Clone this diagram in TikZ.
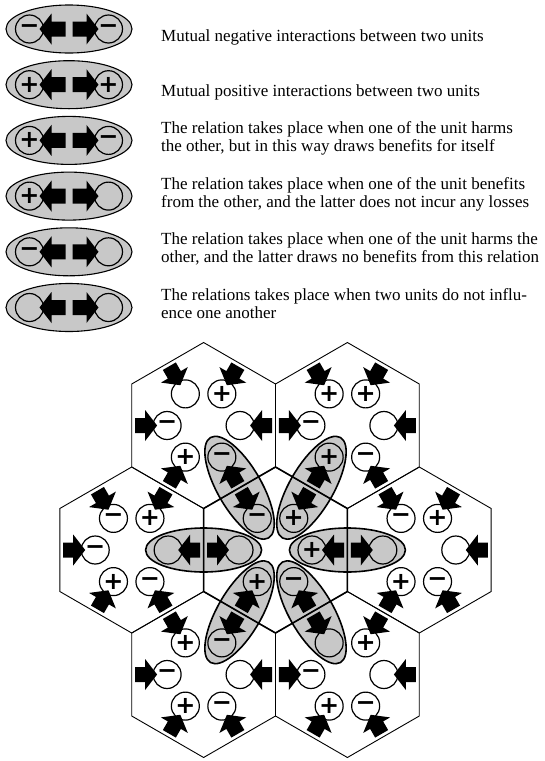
\documentclass[tikz,border=0pt]{standalone}
\usepackage{fontspec}
\setmainfont{Liberation Serif}
\newfontfamily\signfont{DejaVu Sans}
\usetikzlibrary{shapes.geometric,calc}
\definecolor{PairGrey}{HTML}{C8C8C8}
\tikzset{
  unitcirc/.style={circle,draw,line width=1.2pt,minimum size=28pt,inner sep=0pt,outer sep=0pt,font=\signfont\bfseries\fontsize{24}{24}\selectfont},
  pairell/.style={ellipse,draw,fill=PairGrey,line width=1.6pt,inner sep=0pt,outer sep=0pt},
  legtext/.style={anchor=west,align=left,inner sep=0pt,font=\fontsize{17}{18}\selectfont},
  hexline/.style={line width=0.9pt}
}
\newcommand{\unitmark}[5][32]{%
  \node[unitcirc] (#2) at #3 {#5};
  \fill[shift={(#2.center)},rotate=#4] (#1,-7.5) -- (22,-7.5) -- (22,-15.5) -- (10,0) -- (22,15.5) -- (22,7.5) -- (#1,7.5) -- cycle;
}
\newcommand{\hexunits}[2]{%
  \foreach \a/\s in {#2}{\unitmark{#1-\a}{($(#1)+(\a:36.5)$)}{\a}{\s}}
}

\begin{document}
\begin{tikzpicture}[x=1pt,y=1pt]
  \useasboundingbox (0,0) rectangle (544,-761);
  \foreach \i/\sa/\sb in {1/−/−,2/+/+,3/+/−,4/+/{},5/−/{},6/{}/{}}{
    \node[pairell,line width=1.1pt,minimum width=126pt,minimum height=48pt] (leg\i) at (69,{-29-55.7*(\i-1)}) {};
    \unitmark[36]{leg\i-a}{($(leg\i)+(-39.5,0)$)}{0}{\sa}
    \unitmark[36]{leg\i-b}{($(leg\i)+(39.5,0)$)}{180}{\sb}
  }
  \node[legtext] (txt1) at (161,-37) {Mutual negative interactions between two units};
  \node[legtext] (txt2) at (161,-92) {Mutual positive interactions between two units};
  \node[legtext] (txt3) at (161,-138) {The relation takes place when one of the unit harms\\the other, but in this way draws benefits for itself};
  \node[legtext] (txt4) at (161,-194) {The relation takes place when one of the unit benefits\\from the other, and the latter does not incur any losses};
  \node[legtext] (txt5) at (161,-249) {The relation takes place when one of the unit harms the\\other, and the latter draws no benefits from this relation};
  \node[legtext] (txt6) at (161,-304) {The relations takes place when two units do not influ-\\ence one another};

  \coordinate (hexC) at (275.5,-550);
  \coordinate (hexTL) at (203.6,-425.5);
  \coordinate (hexTR) at (347.4,-425.5);
  \coordinate (hexL) at (131.7,-550);
  \coordinate (hexR) at (419.3,-550);
  \coordinate (hexBL) at (203.6,-674.5);
  \coordinate (hexBR) at (347.4,-674.5);
  \foreach \a in {0,60,...,300}
    \node[pairell,minimum width=116pt,minimum height=44pt,rotate=\a] (pair\a) at ($(hexC)+(\a:71.9)$) {};
  \foreach \h in {hexTL,hexTR,hexL,hexR,hexBL,hexBR}
    \draw[hexline,shift={(\h)}] (30:83) -- (90:83) -- (150:83) -- (210:83) -- (270:83) -- (330:83) -- cycle;
  \draw[hexline,line width=1.6pt,shift={(hexC)}] (30:83) -- (90:83) -- (150:83) -- (210:83) -- (270:83) -- (330:83) -- cycle;

  \hexunits{hexC}{0/+,60/+,120/−,180/{},240/+,300/−}
  \hexunits{hexTL}{0/{},60/+,120/{},180/−,240/+,300/−}
  \hexunits{hexTR}{0/{},60/+,120/+,180/−,240/+,300/−}
  \hexunits{hexL}{0/{},60/+,120/−,180/−,240/+,300/−}
  \hexunits{hexR}{0/{},60/+,120/−,180/{},240/+,300/−}
  \hexunits{hexBL}{0/{},60/−,120/+,180/−,240/+,300/−}
  \hexunits{hexBR}{0/{},60/+,120/{},180/−,240/+,300/−}
\end{tikzpicture}
\end{document}
